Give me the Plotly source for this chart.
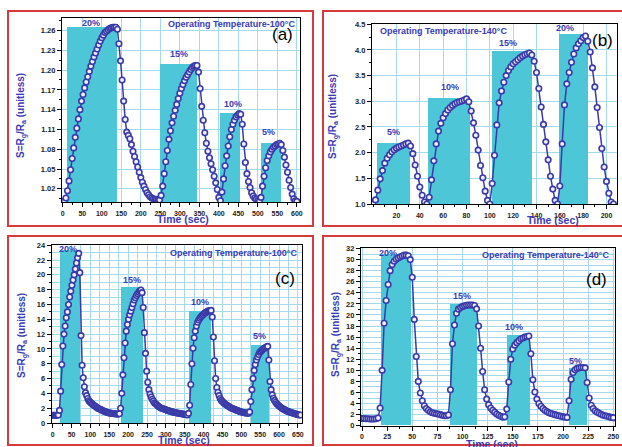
import plotly.graph_objects as go

W, H = 622, 447
FONT = "Liberation Sans, Arial, sans-serif"
BLUE = "#3A3AA8"
TXT_BLUE = "#3B3BB8"
CYAN = "#4DC6D8"
GRID = "rgb(165,218,236)"
RED = "#D63A3A"

# ---------------- panel (a) : 100 C, sampled every 4 s ----------------
a_step = 4
a_s = [1.000, 1.001, 1.006, 1.017, 1.032, 1.049, 1.066, 1.082, 1.098, 1.112,
       1.126, 1.140, 1.153, 1.163, 1.173, 1.182, 1.190, 1.198, 1.206, 1.213,
       1.220, 1.226, 1.232, 1.238, 1.244, 1.249, 1.253, 1.257, 1.259, 1.261,
       1.263, 1.264, 1.265, 1.265, 1.265, 1.262, 1.240, 1.214, 1.185, 1.153,
       1.125, 1.106, 1.101, 1.096, 1.087, 1.077, 1.069, 1.061, 1.053, 1.045,
       1.037, 1.030, 1.024, 1.019, 1.014, 1.011, 1.008, 1.006, 1.005, 1.004,
       1.004, 1.003, 1.003, 1.010, 1.024, 1.043, 1.061, 1.078, 1.095, 1.108,
       1.120, 1.130, 1.139, 1.148, 1.157, 1.165, 1.172, 1.178, 1.184, 1.189,
       1.193, 1.197, 1.201, 1.204, 1.206, 1.207, 1.207, 1.197, 1.172, 1.145,
       1.124, 1.105, 1.089, 1.077, 1.067, 1.058, 1.049, 1.039, 1.029, 1.019,
       1.007, 1.002, 1.015, 1.035, 1.055, 1.070, 1.085, 1.099, 1.110, 1.118,
       1.124, 1.129, 1.132, 1.134, 1.133, 1.118, 1.088, 1.060, 1.043, 1.031,
       1.022, 1.014, 1.009, 1.006, 1.004, 1.002, 1.001, 1.007, 1.024, 1.039,
       1.052, 1.063, 1.070, 1.076, 1.080, 1.083, 1.085, 1.087, 1.088, 1.089,
       1.087, 1.078, 1.068, 1.056, 1.045, 1.033, 1.022, 1.012, 1.005, 1.002,
       1.001]
a_bar_left = [10, 249, 404, 508]
a_bar_right = [138, 345, 454, 559]
a_bar_top = [1.266, 1.210, 1.135, 1.090]
a_labels = ["20%", "15%", "10%", "5%"]
a_label_x = [72, 299, 436, 527]
a_label_y = [1.2716, 1.2248, 1.1488, 1.1058]

# ---------------- panel (b) : 140 C, sampled every 2 s ----------------
b_step = 2
b_s = [1.00, 1.08, 1.27, 1.49, 1.65, 1.795, 1.89, 1.96, 2.015, 2.055,
       2.088, 2.11, 2.13, 2.15, 2.17, 2.186, 2.13, 1.98, 1.76, 1.54,
       1.33, 1.17, 1.04, 1.00, 1.13, 1.47, 1.84, 2.17, 2.42, 2.57,
       2.68, 2.76, 2.83, 2.88, 2.92, 2.95, 2.975, 2.99, 3.005, 3.025,
       3.047, 2.99, 2.81, 2.58, 2.34, 2.05, 1.75, 1.51, 1.25, 1.07,
       1.00, 1.40, 1.95, 2.54, 2.97, 3.20, 3.37, 3.50, 3.60, 3.67,
       3.73, 3.77, 3.81, 3.85, 3.88, 3.905, 3.925, 3.94, 3.90, 3.78,
       3.56, 3.25, 2.89, 2.55, 2.21, 1.86, 1.54, 1.29, 1.07, 1.00,
       1.35, 2.17, 2.93, 3.34, 3.56, 3.76, 3.92, 4.04, 4.12, 4.18,
       4.24, 4.27, 4.17, 3.96, 3.65, 3.28, 2.88, 2.49, 2.08, 1.72,
       1.44, 1.21, 1.04, 1.00]
b_bar_left = [3, 47, 101.5, 159]
b_bar_right = [31.5, 83, 136, 184]
b_bar_top = [2.19, 3.07, 3.98, 4.32]
b_labels = ["5%", "10%", "15%", "20%"]
b_label_x = [17.6, 65.5, 115.5, 164.7]
b_label_y = [2.40, 3.27, 4.13, 4.435]

# ---------------- panel (c) : 100 C, sampled every 3 s ----------------
c_step = 3
c_s = [1.05, 1.05, 1.04, 1.04, 1.05, 1.08, 1.7, 4.3, 7.9, 10.4,
       12.0, 13.1, 14.2, 15.0, 16.0, 17.0, 17.8, 18.6, 19.3, 20.0,
       20.8, 21.6, 22.3, 22.9, 20.3, 11.8, 7.8, 6.1, 4.9, 4.1,
       3.7, 3.3, 3.0, 2.85, 2.7, 2.55, 2.43, 2.33, 2.22, 2.1,
       2.0, 1.93, 1.85, 1.78, 1.7, 1.62, 1.55, 1.5, 1.45, 1.4,
       1.36, 1.33, 1.3, 1.28, 1.26, 1.24, 1.22, 1.2, 1.2, 1.25,
       2.0, 4.0, 6.5, 8.8, 10.8, 12.4, 13.3, 14.0, 14.6, 15.1,
       15.6, 16.1, 16.6, 16.9, 17.2, 17.45, 17.65, 17.85, 17.95, 17.6,
       15.6, 12.2, 9.4, 7.0, 5.5, 4.5, 3.9, 3.5, 3.2, 2.95,
       2.7, 2.6, 2.45, 2.3, 2.2, 2.1, 2.0, 1.95, 1.9, 1.85,
       1.78, 1.72, 1.67, 1.62, 1.58, 1.53, 1.5, 1.45, 1.42, 1.38,
       1.35, 1.32, 1.3, 1.27, 1.24, 1.2, 1.17, 1.14, 1.11, 1.09,
       1.3, 2.4, 5.2, 8.0, 10.1, 11.5, 12.4, 13.1, 13.6, 13.9,
       14.15, 14.35, 14.5, 14.65, 14.8, 14.9, 15.0, 15.1, 15.15, 15.18,
       15.2, 14.3, 11.6, 8.4, 6.0, 4.8, 4.15, 3.7, 3.3, 3.05,
       2.9, 2.75, 2.6, 2.5, 2.4, 2.3, 2.2, 2.1, 2.0, 1.95,
       1.88, 1.82, 1.75, 1.7, 1.64, 1.58, 1.52, 1.48, 1.44, 1.4,
       1.37, 1.34, 1.31, 1.3, 1.5, 2.9, 4.5, 6.0, 7.1, 7.9,
       8.5, 8.9, 9.25, 9.55, 9.7, 9.85, 10.0, 10.1, 10.2, 10.3,
       10.35, 8.5, 5.6, 4.5, 3.8, 3.35, 3.05, 2.8, 2.6, 2.45,
       2.3, 2.18, 2.06, 1.96, 1.87, 1.78, 1.7, 1.63, 1.56, 1.5,
       1.45, 1.4, 1.35, 1.3, 1.25, 1.2, 1.16, 1.12, 1.09, 1.07]
c_bar_left = [19.5, 181, 361, 524]
c_bar_right = [70.5, 238, 420, 572]
c_bar_top = [23.4, 18.3, 15.1, 10.5]
c_labels = ["20%", "15%", "10%", "5%"]
c_label_x = [41.5, 209.6, 389.5, 547.4]
c_label_y = [23.55, 19.37, 16.27, 11.77]

# ---------------- panel (d) : 140 C, sampled every 2 s ----------------
d_step = 2
d_s = [1.3, 1.3, 1.25, 1.25, 1.2, 1.2, 1.2, 1.25, 1.4, 3.2,
       10.0, 18.5, 22.6, 25.5, 28.0, 29.1, 29.7, 30.05, 30.3, 30.5,
       30.65, 30.8, 30.8, 30.7, 30.0, 26.8, 19.2, 12.5, 8.0, 5.9,
       4.5, 3.6, 3.1, 2.8, 2.5, 2.35, 2.25, 2.15, 2.1, 2.0,
       1.9, 1.8, 1.8, 1.95, 6.5, 14.8, 18.2, 20.3, 21.05, 21.35,
       21.55, 21.65, 21.75, 21.8, 21.8, 21.8, 21.7, 21.1, 18.0, 14.0,
       9.8, 6.5, 4.8, 3.8, 3.2, 2.8, 2.45, 2.1, 1.9, 1.7,
       1.55, 1.6, 3.0, 7.9, 12.0, 13.85, 14.55, 15.0, 15.35, 15.7,
       15.85, 16.0, 16.1, 16.2, 13.0, 8.3, 6.1, 4.8, 4.0, 3.5,
       3.1, 2.8, 2.55, 2.35, 2.2, 2.1, 2.0, 1.9, 1.8, 1.7,
       1.6, 1.55, 1.5, 4.5, 8.4, 9.6, 10.1, 10.35, 10.45, 10.5,
       10.5, 10.45, 7.8, 5.0, 3.7, 3.1, 2.7, 2.45, 2.25, 2.05,
       1.9, 1.8, 1.7, 1.6, 1.5, 1.45]
d_bar_left = [18.6, 87.5, 144, 206.3]
d_bar_right = [48.4, 114.1, 167.1, 224.1]
d_bar_top = [31.0, 22.0, 16.4, 10.4]
d_labels = ["20%", "15%", "10%", "5%"]
d_label_x = [25.5, 99.5, 151.7, 212.7]
d_label_y = [31.15, 23.34, 17.75, 11.72]


def X(p):
    return p / W


def Y(p):
    return 1 - p / H


panels = [
    dict(s=a_s, step=a_step, bl=a_bar_left, br=a_bar_right, bt=a_bar_top, base=1.0,
         labels=a_labels, lx=a_label_x, ly=a_label_y,
         px=(62, 300), py=(18, 202), xr=[-2, 608], yr=[1.0, 1.279],
         xt=dict(tick0=0, dtick=50), yt=dict(tick0=1.02, dtick=0.03, tickformat=".2f"),
         xminor=dict(tick0=0, dtick=25, showgrid=False),
         yminor=dict(tick0=1.02, dtick=0.015, showgrid=False),
         temp="Operating Temperature-100°C", temp_pos=(297, 23.5, "right"),
         letter="(a)", letter_pos=(295, 34),
         ytitle=(22, 116), xtitle=(183, 219)),
    dict(s=b_s, step=b_step, bl=b_bar_left, br=b_bar_right, bt=b_bar_top, base=1.0,
         labels=b_labels, lx=b_label_x, ly=b_label_y,
         px=(372, 617), py=(24, 204), xr=[-1, 209], yr=[1.0, 4.505],
         xt=dict(tickmode="array", tickvals=list(range(20, 201, 20))),
         yt=dict(tick0=1.0, dtick=0.5, tickformat=".1f"),
         xminor=dict(tickmode="linear", tick0=0, dtick=10, showgrid=False),
         yminor=dict(tick0=1.0, dtick=0.25, showgrid=False),
         temp="Operating Temperature-140°C", temp_pos=(378, 31, "left"),
         letter="(b)", letter_pos=(615, 40),
         ytitle=(334, 117), xtitle=(553, 220)),
    dict(s=c_s, step=c_step, bl=c_bar_left, br=c_bar_right, bt=c_bar_top, base=0,
         labels=c_labels, lx=c_label_x, ly=c_label_y,
         px=(51.7, 301.7), py=(245, 423), xr=[-2.6, 660], yr=[0, 24.03],
         xt=dict(tick0=0, dtick=50), yt=dict(tick0=0, dtick=2),
         xminor=dict(tick0=0, dtick=25, showgrid=True),
         yminor=dict(tick0=0, dtick=1, showgrid=True),
         temp="Operating Temperature-100°C", temp_pos=(299, 253, "right"),
         letter="(c)", letter_pos=(297, 278),
         ytitle=(22, 336), xtitle=(184, 440)),
    dict(s=d_s, step=d_step, bl=d_bar_left, br=d_bar_right, bt=d_bar_top, base=0,
         labels=d_labels, lx=d_label_x, ly=d_label_y,
         px=(361, 615), py=(248.3, 425.7), xr=[-1, 251.7], yr=[0, 32.04],
         xt=dict(tick0=0, dtick=25), yt=dict(tick0=0, dtick=2),
         xminor=dict(tick0=0, dtick=12.5, showgrid=False),
         yminor=dict(tick0=0, dtick=1, showgrid=True),
         temp="Operating Temperature-140°C", temp_pos=(611, 255, "right"),
         letter="(d)", letter_pos=(609, 279),
         ytitle=(336, 335), xtitle=(492, 444)),
]

fig = go.Figure()
layout = dict(width=W, height=H, margin=dict(l=0, r=0, t=0, b=0, autoexpand=False),
              paper_bgcolor="white", plot_bgcolor="white", showlegend=False,
              bargap=0, font=dict(family=FONT))
annotations = []
shapes = []

for i, p in enumerate(panels):
    n = "" if i == 0 else str(i + 1)
    xa, ya = "x" + n, "y" + n
    times = [k * p["step"] for k in range(len(p["s"]))]
    centers = [(l + r) / 2 for l, r in zip(p["bl"], p["br"])]
    widths = [r - l for l, r in zip(p["bl"], p["br"])]
    heights = [t - p["base"] for t in p["bt"]]
    fig.add_trace(go.Bar(x=centers, y=heights, base=[p["base"]] * len(heights),
                         width=widths, marker=dict(color=CYAN, line=dict(width=0)),
                         xaxis=xa, yaxis=ya, hoverinfo="skip"))
    fig.add_trace(go.Scatter(x=times, y=p["s"], mode="lines+markers",
                             line=dict(color=BLUE, width=1.5),
                             marker=dict(symbol="circle", size=5.5, color="#F2F0FF",
                                         line=dict(color=BLUE, width=1.6)),
                             xaxis=xa, yaxis=ya))
    common = dict(showline=True, linecolor="black", linewidth=1.2, mirror=True,
                  ticks="outside", ticklen=4, tickwidth=1, tickcolor="black",
                  showgrid=True, gridcolor=GRID, gridwidth=1, zeroline=False,
                  automargin=False)
    xminor = dict(ticks="outside", ticklen=2, tickcolor="black", gridcolor=GRID, gridwidth=0.8)
    xminor.update(p["xminor"])
    yminor = dict(ticks="outside", ticklen=2, tickcolor="black", gridcolor=GRID, gridwidth=0.8)
    yminor.update(p["yminor"])
    xax = dict(common, domain=[X(p["px"][0]), X(p["px"][1])], range=p["xr"], anchor=ya,
               tickfont=dict(family=FONT, size=7, color="#222222", weight="bold"),
               minor=xminor, **p["xt"])
    yax = dict(common, domain=[Y(p["py"][1]), Y(p["py"][0])], range=p["yr"], anchor=xa,
               tickfont=dict(family=FONT, size=7.5, color="#222222", weight="bold"),
               minor=yminor, **p["yt"])
    layout["xaxis" + n] = xax
    layout["yaxis" + n] = yax

    for txt, lx, ly in zip(p["labels"], p["lx"], p["ly"]):
        annotations.append(dict(x=lx, y=ly, xref=xa, yref=ya, text=txt, showarrow=False,
                                font=dict(family=FONT, size=9, color=TXT_BLUE, weight="bold"),
                                xanchor="center", yanchor="middle"))
    tx, ty, tanch = p["temp_pos"]
    annotations.append(dict(x=X(tx), y=Y(ty), xref="paper", yref="paper", text=p["temp"],
                            showarrow=False, xanchor=tanch, yanchor="middle",
                            font=dict(family=FONT, size=9, color=TXT_BLUE, weight="bold")))
    lx, ly = p["letter_pos"]
    annotations.append(dict(x=X(lx), y=Y(ly), xref="paper", yref="paper", text=p["letter"],
                            showarrow=False, xanchor="right", yanchor="middle",
                            font=dict(family=FONT, size=17, color="black")))
    yx, yy = p["ytitle"]
    annotations.append(dict(x=X(yx), y=Y(yy), xref="paper", yref="paper",
                            text="S=R<sub>g</sub>/R<sub>a</sub> (unitless)", textangle=-90,
                            showarrow=False, xanchor="center", yanchor="middle",
                            font=dict(family=FONT, size=10, color=TXT_BLUE, weight="bold")))
    xx, xy = p["xtitle"]
    annotations.append(dict(x=X(xx), y=Y(xy), xref="paper", yref="paper", text="Time (sec)",
                            showarrow=False, xanchor="center", yanchor="middle",
                            font=dict(family=FONT, size=10.5, color=TXT_BLUE, weight="bold")))

# red frames around the four panels
for (x0, y0, x1, y1) in [(8, 11, 313, 226), (323, 11, 626, 226),
                         (8, 236, 313, 445), (323, 236, 626, 445)]:
    shapes.append(dict(type="rect", xref="paper", yref="paper",
                       x0=X(x0), x1=X(x1), y0=Y(y1), y1=Y(y0),
                       line=dict(color=RED, width=2), fillcolor="rgba(0,0,0,0)"))

layout["annotations"] = annotations
layout["shapes"] = shapes
fig.update_layout(**layout)
fig.write_html("out.html", config={"displayModeBar": False},
               post_script="document.body.style.margin='0';document.body.style.overflow='hidden';")
